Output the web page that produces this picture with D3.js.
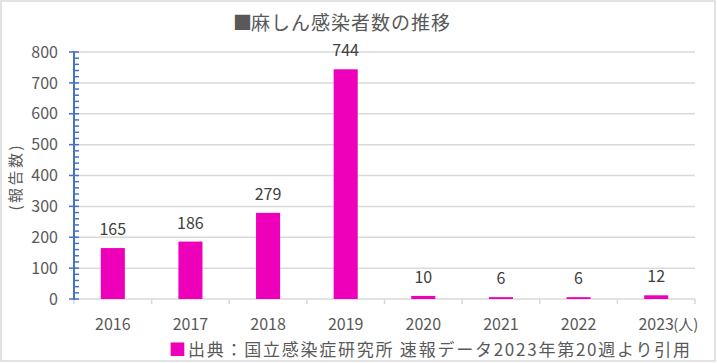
<!DOCTYPE html>
<html>
<head>
<meta charset="utf-8">
<script src="https://cdn.jsdelivr.net/npm/d3@7"></script>
<style>
  body { margin: 0; background: #fff; }
  text { font-family: "Noto Sans CJK JP", "Noto Sans", sans-serif; }
</style>
</head>
<body>
<div id="root"></div>
<script>
const years = ['2016', '2017', '2018', '2019', '2020', '2021', '2022', '2023'];
const cases = [165, 186, 279, 744, 10, 6, 6, 12];
const yTicks = [0, 100, 200, 300, 400, 500, 600, 700, 800];

const w = 717;
const h = 363;
const plotLeft = 74, plotRight = 695, plotTop = 52, plotBottom = 299;

const svg = d3.select('#root')
  .append('svg')
  .attr('width', w)
  .attr('height', h);

// bordo
svg.append('rect')
  .attr('x', 1).attr('y', 1)
  .attr('width', 714).attr('height', 360)
  .attr('fill', '#fff')
  .attr('stroke', '#d9d9d9')
  .attr('stroke-width', 1.5);

const xScale = d3.scaleBand()
  .domain(years)
  .range([plotLeft, plotRight])
  .paddingInner(0.69)
  .paddingOuter(0.345);

const yScale = d3.scaleLinear()
  .domain([0, 800])
  .range([plotBottom, plotTop]);

// griglia
svg.append('g')
  .selectAll('line')
  .data(yTicks.slice(1))
  .enter()
  .append('line')
  .attr('x1', plotLeft)
  .attr('x2', plotRight)
  .attr('y1', d => yScale(d))
  .attr('y2', d => yScale(d))
  .attr('stroke', '#d9d9d9')
  .attr('stroke-width', 1.5);

// asse x
const xEdges = d3.range(years.length + 1).map(i => plotLeft + i * (plotRight - plotLeft) / years.length);
svg.append('line')
  .attr('x1', plotLeft).attr('x2', plotRight)
  .attr('y1', plotBottom).attr('y2', plotBottom)
  .attr('stroke', '#d9d9d9')
  .attr('stroke-width', 1.5);
svg.append('g')
  .selectAll('line')
  .data(xEdges)
  .enter()
  .append('line')
  .attr('x1', d => d).attr('x2', d => d)
  .attr('y1', plotBottom).attr('y2', plotBottom + 5)
  .attr('stroke', '#d9d9d9')
  .attr('stroke-width', 1.5);

svg.append('g')
  .selectAll('text')
  .data(years)
  .enter()
  .append('text')
  .attr('x', d => xScale(d) + xScale.bandwidth() / 2)
  .attr('y', 330)
  .attr('text-anchor', 'middle')
  .attr('fill', '#595959')
  .style('font-size', '16px')
  .text(d => d);

svg.append('text')
  .attr('x', xScale('2023') + xScale.bandwidth() / 2 + 17)
  .attr('y', 330)
  .attr('fill', '#595959')
  .style('font-size', '15px')
  .text('(人)');

// asse y
const yAxis = d3.axisLeft(yScale)
  .tickValues(yTicks)
  .tickSize(0)
  .tickPadding(16)
  .tickFormat(d3.format('d'));
const gy = svg.append('g')
  .attr('transform', `translate(${plotLeft}, 0)`)
  .call(yAxis);
gy.select('.domain').remove();
gy.selectAll('text')
  .attr('fill', '#595959')
  .style('font-size', '16px')
  .style('font-family', '"Noto Sans CJK JP", sans-serif');

const minor = d3.range(0, 801, 20);
svg.append('g')
  .selectAll('line')
  .data(minor)
  .enter()
  .append('line')
  .attr('x1', d => d % 100 === 0 ? plotLeft - 5 : plotLeft)
  .attr('x2', plotLeft + 5)
  .attr('y1', d => yScale(d))
  .attr('y2', d => yScale(d))
  .attr('stroke', '#4472c4')
  .attr('stroke-width', 1.5);
svg.append('line')
  .attr('x1', plotLeft).attr('x2', plotLeft)
  .attr('y1', plotBottom + 1).attr('y2', plotTop - 1)
  .attr('stroke', '#4472c4')
  .attr('stroke-width', 2);

svg.append('text')
  .attr('transform', `translate(21, 178) rotate(-90)`)
  .attr('text-anchor', 'middle')
  .attr('fill', '#595959')
  .style('font-size', '15px')
  .attr('textLength', 65)
  .attr('lengthAdjust', 'spacing')
  .text('(報告数)');

// barre
svg.append('g')
  .selectAll('rect')
  .data(cases)
  .enter()
  .append('rect')
  .attr('x', (d, i) => xScale(years[i]))
  .attr('y', d => yScale(d))
  .attr('width', xScale.bandwidth())
  .attr('height', d => plotBottom - yScale(d))
  .attr('fill', '#ee00bb');

svg.append('g')
  .selectAll('text')
  .data(cases)
  .enter()
  .append('text')
  .attr('x', (d, i) => xScale(years[i]) + xScale.bandwidth() / 2)
  .attr('y', d => yScale(d) - 13)
  .attr('text-anchor', 'middle')
  .attr('fill', '#404040')
  .style('font-size', '16px')
  .text(d => d);

// titolo
svg.append('text')
  .attr('x', 233)
  .attr('y', 30)
  .style('font-size', '19px')
  .attr('fill', '#595959')
  .text('■');
svg.append('text')
  .attr('x', 251)
  .attr('y', 30)
  .style('font-size', '19px')
  .attr('fill', '#595959')
  .attr('textLength', 199)
  .attr('lengthAdjust', 'spacing')
  .text('麻しん感染者数の推移');

// fonte
svg.append('text')
  .attr('x', 169)
  .attr('y', 356)
  .style('font-size', '17px')
  .attr('fill', '#ee00bb')
  .text('■');
svg.append('text')
  .attr('x', 188)
  .attr('y', 356)
  .style('font-size', '17px')
  .attr('fill', '#595959')
  .attr('textLength', 502)
  .attr('lengthAdjust', 'spacing')
  .text('出典：国立感染症研究所 速報データ2023年第20週より引用');
</script>
</body>
</html>
